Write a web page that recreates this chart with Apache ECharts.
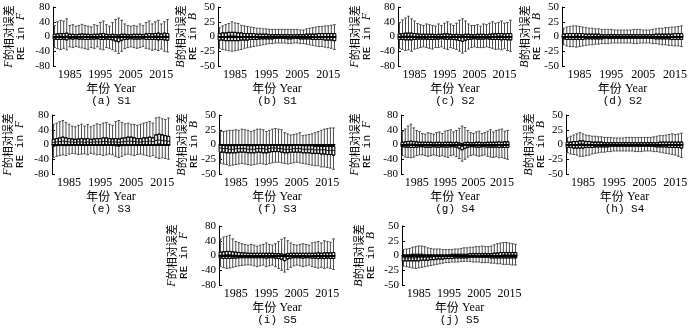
<!DOCTYPE html>
<html>
<head>
<meta charset="utf-8">
<script src="https://cdn.jsdelivr.net/npm/echarts@6/dist/echarts.min.js"></script>
<style>
html, body { margin: 0; padding: 0; background: #fff; }
#chart { width: 700px; height: 328px; }
</style>
</head>
<body>
<div id="chart"></div>
<script>
// years on the x axis, only a few of them get a label
const years = ['1980','1981','1982','1983','1984','1985','1986','1987','1988','1989',
  '1990','1991','1992','1993','1994','1995','1996','1997','1998','1999',
  '2000','2001','2002','2003','2004','2005','2006','2007','2008','2009',
  '2010','2011','2012','2013','2014','2015','2016','2017'];
const tickYears = ['1985', '1995', '2005', '2015'];

// (a) S1, RE in F
const aLow  = [-30,-33,-35,-32,-36,-28,-30,-27,-29,-31,-33,-35,-30,-32,-28,-34,-36,-30,-32,-36,-40,-46,-40,-33,-30,-28,-30,-32,-30,-27,-32,-34,-37,-35,-38,-34,-40,-42];
const aQ1   = [-7,-8,-8,-7,-9,-6,-7,-6,-7,-7,-8,-8,-7,-7,-6,-8,-8,-7,-8,-9,-12,-14,-10,-8,-7,-6,-7,-7,-7,-6,-8,-8,-8,-8,-9,-8,-9,-10];
const aMed  = [0,0,1,0,1,0,0,-1,0,0,0,-1,0,0,0,0,0,0,-1,-1,-3,-4,-1,0,0,0,0,0,0,0,0,1,0,1,1,0,1,0];
const aQ3   = [6,7,8,8,9,6,6,5,6,7,6,6,5,6,6,7,8,6,5,6,5,4,6,6,5,5,6,6,6,5,7,8,7,8,9,7,9,8];
const aHigh = [30,40,44,42,48,30,32,28,30,33,30,28,26,32,30,38,42,32,28,38,46,50,44,34,30,28,30,28,34,30,38,42,34,40,44,34,40,46];

// (b) S1, RE in B
const bLow  = [-20,-22,-23,-24,-25,-24,-23,-22,-20,-19,-18,-17,-16,-15,-14,-13,-12,-12,-11,-11,-11,-11,-12,-12,-11,-11,-12,-12,-13,-14,-15,-16,-17,-17,-18,-19,-20,-22];
const bQ1   = [-6,-6,-7,-7,-7,-7,-7,-6,-6,-6,-5,-5,-5,-4,-4,-4,-4,-4,-3,-3,-3,-3,-4,-4,-3,-3,-4,-4,-4,-4,-5,-5,-5,-5,-6,-6,-6,-7];
const bMed  = [0,0,0,1,1,1,0,0,0,0,0,0,0,0,0,0,0,0,0,0,0,0,0,0,0,0,0,0,0,0,0,0,0,0,-1,0,-1,-1];
const bQ3   = [5,6,6,7,7,7,6,6,5,5,5,5,4,4,4,4,3,3,3,3,3,3,3,3,3,3,3,3,4,4,4,4,5,5,5,5,5,5];
const bHigh = [15,18,20,22,25,23,22,19,18,17,16,15,14,14,13,13,12,12,12,12,12,12,12,12,12,12,11,11,13,14,15,16,17,17,18,18,19,20];

// (c) S2, RE in F
const cLow  = [-32,-35,-38,-36,-40,-34,-32,-30,-28,-30,-32,-34,-30,-30,-28,-32,-35,-30,-32,-35,-40,-45,-40,-34,-30,-28,-30,-30,-30,-28,-30,-32,-35,-34,-36,-33,-38,-40];
const cQ1   = [-8,-8,-9,-9,-9,-8,-7,-7,-7,-7,-8,-8,-7,-7,-6,-7,-8,-7,-8,-9,-11,-13,-10,-8,-7,-6,-7,-7,-7,-6,-7,-8,-8,-8,-9,-8,-9,-9];
const cMed  = [0,1,1,1,1,0,0,0,0,0,0,-1,0,0,0,0,0,0,-1,-1,-2,-3,-1,0,0,0,0,0,0,0,0,0,0,1,1,0,0,0];
const cQ3   = [7,8,9,9,9,8,7,6,6,6,6,6,5,6,6,7,7,6,5,6,5,4,6,6,5,5,6,6,6,5,6,7,7,8,8,7,8,8];
const cHigh = [38,45,50,55,48,42,35,32,30,34,32,30,28,34,30,36,40,34,30,36,44,48,42,34,30,30,32,28,34,32,36,40,36,38,42,36,38,44];

// (d) S2, RE in B
const dLow  = [-14,-16,-17,-17,-18,-17,-16,-15,-14,-14,-13,-13,-12,-12,-12,-11,-11,-11,-11,-11,-11,-11,-12,-12,-11,-11,-11,-11,-12,-12,-13,-14,-14,-15,-15,-16,-16,-17];
const dQ1   = [-4,-5,-5,-5,-5,-5,-5,-4,-4,-4,-4,-4,-4,-3,-3,-3,-3,-3,-3,-3,-3,-3,-3,-3,-3,-3,-3,-3,-3,-4,-4,-4,-4,-4,-5,-5,-5,-5];
const dMed  = [0,0,0,0,1,0,0,0,0,0,0,0,0,0,0,0,0,0,0,0,0,0,0,0,0,0,0,0,0,0,0,0,0,0,0,0,0,0];
const dQ3   = [4,5,5,5,5,5,5,4,4,4,4,4,3,3,3,3,3,3,3,3,3,3,3,3,3,3,3,3,3,4,4,4,4,4,4,5,5,5];
const dHigh = [14,16,17,18,18,17,16,15,14,14,13,13,12,12,12,12,11,11,11,11,11,11,12,12,12,11,11,11,12,13,14,14,15,15,16,16,17,18];

// (e) S3, RE in F
const eLow  = [-35,-32,-30,-28,-30,-26,-24,-25,-27,-26,-25,-28,-24,-26,-28,-27,-30,-28,-26,-28,-32,-35,-32,-28,-26,-28,-30,-27,-26,-28,-30,-32,-30,-35,-38,-36,-38,-40];
const eQ1   = [-4,-3,-2,-2,-3,-2,-2,-2,-2,-2,-2,-2,-2,-2,-2,-2,-1,-2,-2,-2,-3,-4,-3,-2,-1,-1,-2,-2,-2,-1,-1,-1,-2,0,1,0,-1,-2];
const eMed  = [6,7,8,9,8,7,7,6,7,7,6,7,6,7,7,7,8,8,7,7,7,6,7,8,9,9,8,7,7,8,8,9,8,11,12,11,10,9];
const eQ3   = [14,16,18,20,18,16,15,14,15,16,15,16,14,15,16,16,18,18,16,15,16,15,17,18,20,20,18,16,16,18,18,20,18,26,28,26,24,22];
const eHigh = [55,58,62,65,60,55,50,48,52,55,50,54,48,52,56,54,58,60,55,52,62,65,60,56,58,55,54,52,55,58,60,62,58,72,74,70,68,72];

// (f) S3, RE in B
const fLow  = [-32,-33,-34,-36,-35,-34,-33,-32,-33,-34,-35,-34,-33,-32,-33,-34,-32,-31,-30,-30,-31,-32,-33,-32,-31,-30,-31,-32,-33,-34,-35,-36,-36,-38,-38,-39,-40,-42];
const fQ1   = [-13,-13,-14,-14,-14,-14,-13,-13,-13,-14,-14,-14,-13,-13,-14,-14,-13,-12,-12,-12,-13,-14,-14,-13,-13,-13,-13,-14,-14,-14,-15,-15,-15,-16,-16,-17,-17,-18];
const fMed  = [-6,-7,-7,-8,-8,-7,-7,-7,-7,-8,-8,-8,-7,-7,-7,-8,-7,-6,-6,-7,-7,-8,-8,-8,-7,-7,-7,-8,-8,-8,-8,-9,-9,-9,-9,-10,-10,-10];
const fQ3   = [-1,-1,-2,-2,-2,-2,-1,-1,-1,-2,-2,-2,-1,-1,-1,-2,-1,0,0,-1,-1,-2,-2,-2,-1,-1,-1,-2,-2,-2,-2,-3,-3,-3,-3,-3,-3,-3];
const fHigh = [22,22,23,24,24,25,24,26,25,24,22,24,26,26,25,22,24,26,27,26,25,20,18,16,17,18,20,15,16,17,18,20,22,24,26,27,28,28];

// (g) S4, RE in F
const gLow  = [-30,-34,-35,-36,-34,-30,-28,-28,-30,-32,-30,-28,-30,-32,-30,-33,-35,-30,-28,-33,-38,-45,-40,-34,-30,-28,-30,-32,-30,-28,-32,-34,-35,-33,-36,-35,-38,-40];
const gQ1   = [-6,-7,-7,-8,-8,-7,-6,-6,-7,-7,-7,-6,-7,-7,-6,-7,-7,-6,-6,-7,-10,-14,-10,-7,-6,-6,-7,-7,-6,-6,-7,-7,-7,-7,-8,-7,-8,-8];
const gMed  = [0,0,1,1,1,0,0,0,0,0,0,0,0,0,0,0,0,0,0,0,-2,-5,-2,0,0,0,0,0,0,0,0,0,0,0,0,0,0,0];
const gQ3   = [6,7,8,9,8,7,6,6,6,6,6,5,6,6,5,6,6,6,5,6,4,2,5,6,5,5,6,6,5,5,6,6,6,6,7,6,7,7];
const gHigh = [35,42,50,55,45,38,35,30,28,32,30,28,32,34,30,36,38,40,34,38,44,50,46,38,32,30,34,36,30,32,36,40,34,38,40,42,36,38];

// (h) S4, RE in B
const hLow  = [-14,-16,-17,-18,-20,-20,-19,-18,-16,-15,-14,-13,-13,-12,-12,-11,-11,-11,-11,-11,-11,-11,-12,-12,-12,-11,-11,-11,-12,-12,-13,-14,-15,-16,-17,-18,-20,-22];
const hQ1   = [-5,-5,-6,-6,-6,-6,-5,-5,-5,-4,-4,-4,-4,-4,-3,-3,-3,-3,-3,-3,-3,-3,-3,-3,-3,-3,-3,-3,-3,-4,-4,-4,-4,-5,-5,-5,-5,-6];
const hMed  = [0,0,0,0,1,1,0,0,0,0,0,0,0,0,0,0,0,0,0,0,0,0,0,0,0,0,0,0,0,0,0,0,0,0,0,0,-1,-1];
const hQ3   = [4,4,5,5,6,6,5,5,4,4,4,4,3,3,3,3,3,3,3,3,3,3,3,3,3,3,3,3,3,3,4,4,4,4,4,4,4,4];
const hHigh = [12,14,16,18,20,18,16,15,14,14,13,13,12,12,12,11,11,11,11,12,12,12,12,12,12,12,12,12,13,14,15,15,16,17,18,17,18,19];

// (i) S5, RE in F
const iLow  = [-30,-33,-35,-34,-32,-30,-28,-27,-26,-25,-26,-28,-30,-28,-26,-30,-28,-26,-30,-35,-40,-45,-38,-32,-28,-26,-28,-30,-28,-26,-30,-32,-34,-32,-35,-33,-35,-38];
const iQ1   = [-7,-8,-8,-8,-7,-7,-6,-6,-6,-6,-6,-6,-6,-6,-6,-7,-6,-6,-7,-8,-10,-14,-9,-7,-6,-6,-6,-7,-6,-6,-7,-7,-8,-7,-8,-7,-8,-8];
const iMed  = [1,1,2,2,1,1,0,0,0,0,0,0,0,0,0,0,0,0,0,-1,-2,-4,-1,0,0,0,0,0,0,0,0,0,0,0,0,0,0,0];
const iQ3   = [9,10,11,11,10,9,8,7,7,6,6,6,6,6,6,6,6,6,5,5,4,3,5,6,6,6,6,6,6,6,6,6,7,6,7,7,7,8];
const iHigh = [45,50,52,55,45,38,35,32,30,28,30,28,25,28,30,34,30,28,32,38,44,48,40,34,30,28,30,32,30,28,34,36,38,34,40,38,36,45];

// (j) S5, RE in B
const jLow  = [-18,-19,-20,-21,-22,-21,-20,-19,-18,-17,-16,-15,-14,-13,-12,-12,-11,-11,-11,-10,-10,-10,-10,-11,-11,-11,-12,-12,-12,-13,-13,-14,-14,-15,-15,-15,-16,-16];
const jQ1   = [-9,-9,-9,-9,-9,-9,-8,-8,-8,-7,-7,-6,-6,-6,-5,-5,-5,-4,-4,-4,-4,-4,-3,-3,-3,-3,-3,-3,-3,-4,-4,-4,-4,-4,-4,-4,-4,-4];
const jMed  = [-4,-4,-4,-4,-4,-3,-3,-3,-3,-3,-2,-2,-2,-2,-2,-1,-1,-1,-1,-1,-1,-1,0,0,0,0,0,0,0,0,0,0,0,1,1,1,1,1];
const jQ3   = [1,1,1,2,2,2,2,1,1,1,1,1,1,1,1,1,2,2,2,2,2,2,3,3,3,3,3,3,3,3,4,4,5,5,5,5,5,5];
const jHigh = [10,11,12,14,15,16,16,15,13,12,11,11,11,10,10,10,10,11,11,12,13,13,14,14,15,15,16,15,15,16,18,20,21,22,22,21,20,19];

// panel placement (px)
const panels = [
  { cap: '(a) S1', v: 'F', lo: aLow, q1: aQ1, md: aMed, q3: aQ3, hi: aHigh, left: 53,  width: 116, top: 7,   gap: 26 },
  { cap: '(b) S1', v: 'B', lo: bLow, q1: bQ1, md: bMed, q3: bQ3, hi: bHigh, left: 218, width: 118, top: 7,   gap: 19 },
  { cap: '(c) S2', v: 'F', lo: cLow, q1: cQ1, md: cMed, q3: cQ3, hi: cHigh, left: 398, width: 114, top: 7,   gap: 25 },
  { cap: '(d) S2', v: 'B', lo: dLow, q1: dQ1, md: dMed, q3: dQ3, hi: dHigh, left: 562, width: 121, top: 7,   gap: 19 },
  { cap: '(e) S3', v: 'F', lo: eLow, q1: eQ1, md: eMed, q3: eQ3, hi: eHigh, left: 52,  width: 118, top: 115, gap: 26 },
  { cap: '(f) S3', v: 'B', lo: fLow, q1: fQ1, md: fMed, q3: fQ3, hi: fHigh, left: 219, width: 116, top: 115, gap: 19 },
  { cap: '(g) S4', v: 'F', lo: gLow, q1: gQ1, md: gMed, q3: gQ3, hi: gHigh, left: 401, width: 108, top: 115, gap: 28 },
  { cap: '(h) S4', v: 'B', lo: hLow, q1: hQ1, md: hMed, q3: hQ3, hi: hHigh, left: 566, width: 117, top: 115, gap: 19 },
  { cap: '(i) S5', v: 'F', lo: iLow, q1: iQ1, md: iMed, q3: iQ3, hi: iHigh, left: 219, width: 116, top: 226, gap: 29 },
  { cap: '(j) S5', v: 'B', lo: jLow, q1: jQ1, md: jMed, q3: jQ3, hi: jHigh, left: 402, width: 115, top: 226, gap: 25 }
];

const serif = 'Liberation Serif';
const mono = 'Liberation Mono';
const cjk = 'Noto Sans CJK SC';

const showTick = (idx, val) => tickYears.includes(val);

const option = { animation: false, backgroundColor: '#fff', grid: [], xAxis: [], yAxis: [], series: [] };

panels.forEach((p, i) => {
  const isF = p.v === 'F';
  option.grid.push({ left: p.left, top: p.top, width: p.width, height: 59, outerBoundsMode: 'none' });

  option.xAxis.push({
    type: 'category', gridIndex: i, data: years,
    axisLine: { lineStyle: { color: '#000', width: 1 } },
    axisTick: { inside: true, length: 3, alignWithLabel: true, interval: showTick, lineStyle: { color: '#000' } },
    axisLabel: { interval: showTick, color: '#000', fontFamily: serif, fontSize: 12, margin: 3 },
    splitLine: { show: false },
    name: '{c|年份} {s|Year}\n{m|' + p.cap + '}',
    nameLocation: 'middle', nameGap: 15,
    nameTextStyle: {
      color: '#000', lineHeight: 13,
      rich: {
        c: { fontFamily: cjk, fontSize: 12, color: '#000', lineHeight: 13 },
        s: { fontFamily: serif, fontSize: 12, color: '#000', lineHeight: 13 },
        m: { fontFamily: mono, fontSize: 11, color: '#000', lineHeight: 13 }
      }
    }
  });
  // hidden twin axis so the boxes sit on top of the whiskers, not beside them
  option.xAxis.push({ type: 'category', gridIndex: i, data: years, show: false });

  option.yAxis.push({
    type: 'value', gridIndex: i,
    min: isF ? -80 : -50, max: isF ? 80 : 50, interval: isF ? 40 : 25,
    splitLine: { show: false },
    axisLine: { show: true, lineStyle: { color: '#000', width: 1 } },
    axisTick: { show: true, inside: true, length: 3, lineStyle: { color: '#000' } },
    axisLabel: { color: '#000', fontFamily: serif, fontSize: 11, margin: 3 },
    name: '{i|' + p.v + '}{c|的相对误差}\n{m|RE in }{i|' + p.v + '}',
    nameLocation: 'middle', nameRotate: 90, nameGap: p.gap, nameMoveOverlap: false,
    nameTextStyle: {
      color: '#000', lineHeight: 12,
      rich: {
        i: { fontFamily: serif, fontStyle: 'italic', fontSize: 12, color: '#000', lineHeight: 12 },
        c: { fontFamily: cjk, fontSize: 11, color: '#000', lineHeight: 12 },
        m: { fontFamily: mono, fontSize: 11, color: '#000', lineHeight: 12 }
      }
    }
  });

  const whisk = years.map((y, k) => [p.lo[k], p.q1[k], p.md[k], p.q3[k], p.hi[k]]);
  const boxes = years.map((y, k) => [p.q1[k], p.q1[k], p.md[k], p.q3[k], p.q3[k]]);

  option.series.push({
    type: 'boxplot', xAxisIndex: 2 * i, yAxisIndex: i, data: whisk,
    boxWidth: [2.6, 2.6], silent: true,
    itemStyle: { color: 'rgba(0,0,0,0)', borderColor: '#4a4a4a', borderWidth: 1 },
    emphasis: { disabled: true }
  });
  option.series.push({
    type: 'boxplot', xAxisIndex: 2 * i + 1, yAxisIndex: i, data: boxes,
    boxWidth: [2.6, 2.6], silent: true,
    itemStyle: { color: '#fff', borderColor: '#000', borderWidth: 0.9 },
    emphasis: { disabled: true },
    markLine: {
      silent: true, symbol: 'none', label: { show: false },
      lineStyle: { color: '#000', width: 2, type: 'solid' },
      data: [{ yAxis: 0 }]
    }
  });
});

const myChart = echarts.init(document.getElementById('chart'));
myChart.setOption(option);
</script>
</body>
</html>
